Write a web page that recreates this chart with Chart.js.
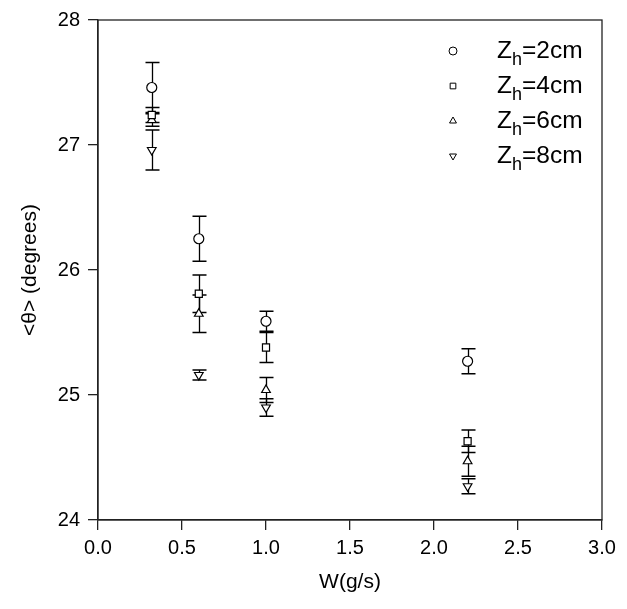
<!DOCTYPE html>
<html>
<head>
<meta charset="utf-8">
<script src="https://cdn.jsdelivr.net/npm/chart.js@4"></script>
<style>
  html, body { margin: 0; padding: 0; background: #fff; }
  #wrap { width: 627px; height: 609px; }
</style>
</head>
<body>
<div id="wrap"><canvas id="thetaChart"></canvas></div>
<script>
// W (g/s) for each measurement group
const wFlow = [0.32, 0.6, 1.0, 2.2];

// mean angle <theta> for each Zh, with error bar half-widths
const theta2cm = [27.46, 26.25, 25.59, 25.27];
const err2cm = [0.20, 0.18, 0.08, 0.10];
const theta4cm = [27.24, 25.81, 25.38, 24.63];
const err4cm = [0.06, 0.15, 0.12, 0.09];
const theta6cm = [27.20, 25.65, 25.04, 24.47];
const err6cm = [0.05, 0.15, 0.10, 0.12];
const theta8cm = [26.96, 25.16, 24.90, 24.27];
const err8cm = [0.16, 0.04, 0.07, 0.06];

const seriesNames = ['2cm', '4cm', '6cm', '8cm'];
const xTicks = [0.0, 0.5, 1.0, 1.5, 2.0, 2.5, 3.0];
const yTicks = [24, 25, 26, 27, 28];

const seriesValues = [theta2cm, theta4cm, theta6cm, theta8cm];
const seriesErrors = [err2cm, err4cm, err6cm, err8cm];
const markers = ['circle', 'rect', 'triangle', 'triangle'];
const markerRot = [0, 0, 0, 180];

const FONT = '"Liberation Sans", Arial, sans-serif';

// error bars are drawn under the hollow markers
const errorBars = {
    id: 'errorBars',
    beforeDatasetsDraw(chart) {
        const ctx = chart.ctx;
        const xs = chart.scales.x, ys = chart.scales.y;
        ctx.save();
        ctx.strokeStyle = '#000';
        ctx.lineWidth = 1.3;
        chart.data.datasets.forEach(function (ds, i) {
            ds.data.forEach(function (p, j) {
                let e = seriesErrors[i][j];
                let px = Math.round(xs.getPixelForValue(p.x)) + 0.5;
                let top = ys.getPixelForValue(p.y + e);
                let bot = ys.getPixelForValue(p.y - e);
                ctx.beginPath();
                ctx.moveTo(px, top);
                ctx.lineTo(px, bot);
                ctx.moveTo(px - 7, top);
                ctx.lineTo(px + 7, top);
                ctx.moveTo(px - 7, bot);
                ctx.lineTo(px + 7, bot);
                ctx.stroke();
            });
        });
        ctx.restore();
    }
};

// frame around the plot and the legend with subscripts
const frameAndLegend = {
    id: 'frameAndLegend',
    afterDraw(chart) {
        const ctx = chart.ctx;
        const a = chart.chartArea;
        ctx.save();
        ctx.strokeStyle = '#222';
        ctx.lineWidth = 1.3;
        ctx.strokeRect(a.left, a.top, a.right - a.left, a.bottom - a.top);

        let lx = 453, ly = 51, step = 35;
        seriesNames.forEach(function (name, i) {
            let y = ly + i * step;
            ctx.lineWidth = 1;
            ctx.strokeStyle = '#000';
            ctx.fillStyle = '#fff';
            Chart.helpers.drawPoint(ctx, {
                pointStyle: markers[i], radius: 4, rotation: markerRot[i], borderWidth: 1
            }, lx, y);
            ctx.fillStyle = '#000';
            ctx.textBaseline = 'middle';
            ctx.font = '24.5px ' + FONT;
            let tx = 497;
            ctx.fillText('Z', tx, y);
            tx += ctx.measureText('Z').width;
            ctx.font = '18px ' + FONT;
            ctx.fillText('h', tx, y + 9);
            tx += ctx.measureText('h').width;
            ctx.font = '24.5px ' + FONT;
            ctx.fillText('=' + name, tx, y);
        });
        ctx.restore();
    }
};

new Chart(document.getElementById('thetaChart'), {
    type: 'scatter',
    data: {
        datasets: seriesValues.map(function (vals, i) {
            return {
                label: 'Zh=' + seriesNames[i],
                data: wFlow.map(function (w, j) { return { x: w, y: vals[j] }; }),
                pointStyle: markers[i],
                rotation: markerRot[i],
                pointRadius: 5,
                borderColor: '#000',
                backgroundColor: '#fff',
                borderWidth: 1.2
            };
        })
    },
    options: {
        responsive: true,
        maintainAspectRatio: false,
        animation: false,
        layout: { padding: { top: 15, right: 25, left: 0, bottom: 0 } },
        plugins: {
            legend: { display: false },
            tooltip: { enabled: false }
        },
        scales: {
            x: {
                type: 'linear',
                min: 0, max: 3,
                afterBuildTicks: function (s) { s.ticks = xTicks.map(function (v) { return { value: v }; }); },
                afterFit: function (s) { s.height = 609 - 520; },
                ticks: {
                    color: '#000',
                    font: { family: FONT, size: 20 },
                    padding: 6,
                    maxRotation: 0,
                    callback: function (v) { return v.toFixed(1); }
                },
                grid: { drawOnChartArea: false, tickLength: 10, color: '#222', lineWidth: 1.3 },
                border: { color: '#222', width: 1.3 },
                title: {
                    display: true,
                    text: 'W(g/s)',
                    color: '#000',
                    font: { family: FONT, size: 21 },
                    padding: 14
                }
            },
            y: {
                type: 'linear',
                min: 24, max: 28,
                afterBuildTicks: function (s) { s.ticks = yTicks.map(function (v) { return { value: v }; }); },
                afterFit: function (s) { s.width = 98; },
                ticks: {
                    color: '#000',
                    font: { family: FONT, size: 20 },
                    padding: 8
                },
                grid: { drawOnChartArea: false, tickLength: 10, color: '#222', lineWidth: 1.3 },
                border: { color: '#222', width: 1.3 },
                title: {
                    display: true,
                    text: '<θ> (degrees)',
                    color: '#000',
                    font: { family: FONT, size: 21 },
                    padding: 18
                }
            }
        }
    },
    plugins: [errorBars, frameAndLegend]
});
</script>
</body>
</html>
